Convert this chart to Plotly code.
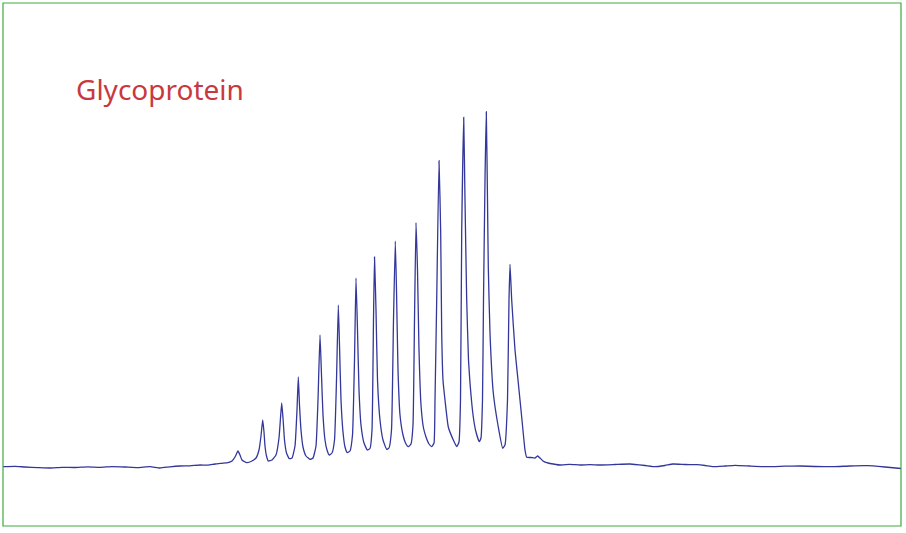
import plotly.graph_objects as go

# Trace: x position (chart units) and intensity (baseline ~ 0)
REF = 470.0
x_pts = [3, 15, 25, 38, 50, 62, 75, 88, 100, 112, 125, 138, 150, 160, 170, 180, 190, 200, 208, 215, 222, 228, 232, 235, 238, 240, 242, 246.7,
         252, 256, 259, 261, 262.7, 264, 265, 266.5, 268.3,
         272, 276, 279, 280.5, 281.7, 283, 284.5, 286.5, 289.3,
         292, 295, 297, 298.3, 299.5, 301, 303, 306, 310,
         313, 316, 318, 320, 321.5, 323, 325, 327, 329.3,
         332, 334.5, 336.5, 338.3, 339.5, 341, 343, 345, 347.3,
         350, 352.5, 354.5, 356, 357.5, 359, 361, 364, 367.3,
         370, 372, 373.5, 374.5, 376, 377.5, 380, 383, 386.7,
         389, 391.5, 393.5, 395.3, 396.5, 398, 400, 403, 405.5, 408.3,
         411, 413, 414.5, 416, 417.5, 419, 421, 423.5, 426, 429, 431.7,
         434, 435, 436.7, 439, 440.7, 441.7, 443, 445, 448.3, 453.3, 456.7,
         459, 460.5, 461.7, 463.7, 465, 466.7, 468.5, 470, 473.3, 476, 479.3,
         481, 482.5, 483.5, 485, 486.3, 487.5, 488.3, 490, 493.3, 498.3, 502.7,
         505, 507.5, 509, 510, 511.7, 515, 518.3, 521.7, 525, 526.7,
         531, 535, 537.7, 540, 543, 546.7, 550, 560, 570, 580, 590, 600, 615, 630, 645, 655, 665,
         673, 685, 697, 705, 713, 725, 735, 750, 767, 785, 800, 815, 833, 850, 867, 885, 901]
y_px = [466.7, 466.3, 467, 467.6, 468, 467.4, 467.5, 466.8, 467.3, 466.6, 467, 467.6, 466.7, 468, 466.8, 466, 465.8, 465, 465.2, 464, 463.3, 462.7, 461, 457, 451, 455, 460, 462.7,
        461, 458, 450, 436, 420, 432, 446, 456, 461,
        460, 455, 438, 418, 403, 418, 440, 453, 458.7,
        458, 446, 410, 377, 405, 430, 447, 456, 459.3,
        458, 446, 400, 335, 375, 415, 440, 450, 455,
        453, 440, 380, 305, 345, 400, 432, 447, 452.7,
        451, 435, 360, 278, 330, 390, 425, 443, 450,
        448.5, 430, 320, 257, 310, 380, 420, 440, 449.3,
        448, 430, 320, 241, 290, 370, 415, 435, 443, 446.7,
        444, 425, 320, 222.7, 270, 350, 405, 428, 437, 444, 446.7,
        443, 400, 300, 160.7, 233, 333, 380, 400, 427, 440, 446.7,
        442, 400, 233, 117.3, 200, 300, 360, 383, 417, 432, 441.7,
        438, 400, 300, 180, 111.7, 200, 267, 333, 393, 427, 448.3,
        445, 400, 300, 264.3, 300, 350, 383, 417, 450, 457.3,
        457.5, 458, 456, 458, 461, 462.7, 463.5, 465, 464.3, 465, 464.6, 465, 464.5, 464, 465.5, 466.7, 465.5,
        464, 464.5, 464.7, 465.5, 466.7, 466, 465.3, 466, 466.7, 466.2, 466, 466.5, 466.7, 466, 465.7, 467, 468.5]
intensity = [round(REF - v, 1) for v in y_px]

label_text = "Glycoprotein"

fig = go.Figure()
fig.add_trace(go.Scatter(x=x_pts, y=intensity, mode="lines",
                         line=dict(color="#33379a", width=1.3, shape="spline", smoothing=0.4),
                         hoverinfo="skip"))

fig.add_annotation(x=0.079, y=0.835, xref="paper", yref="paper", xanchor="left", yanchor="middle",
                   text=label_text, showarrow=False,
                   font=dict(family="Noto Sans", size=28, color="#c8393f"))

fig.add_shape(type="rect", xref="paper", yref="paper", x0=0, y0=0, x1=1, y1=1,
              line=dict(color="#3eaa3e", width=1.2))

fig.update_layout(
    width=906, height=533,
    margin=dict(l=3, r=5, t=3, b=7),
    paper_bgcolor="white", plot_bgcolor="white",
    showlegend=False,
    xaxis=dict(range=[3, 901], visible=False),
    yaxis=dict(range=[REF - 526, REF - 3], visible=False),
)

fig.write_html("out.html", config={"displayModeBar": False},
               post_script="document.body.style.margin='0';document.body.style.overflow='hidden';")
